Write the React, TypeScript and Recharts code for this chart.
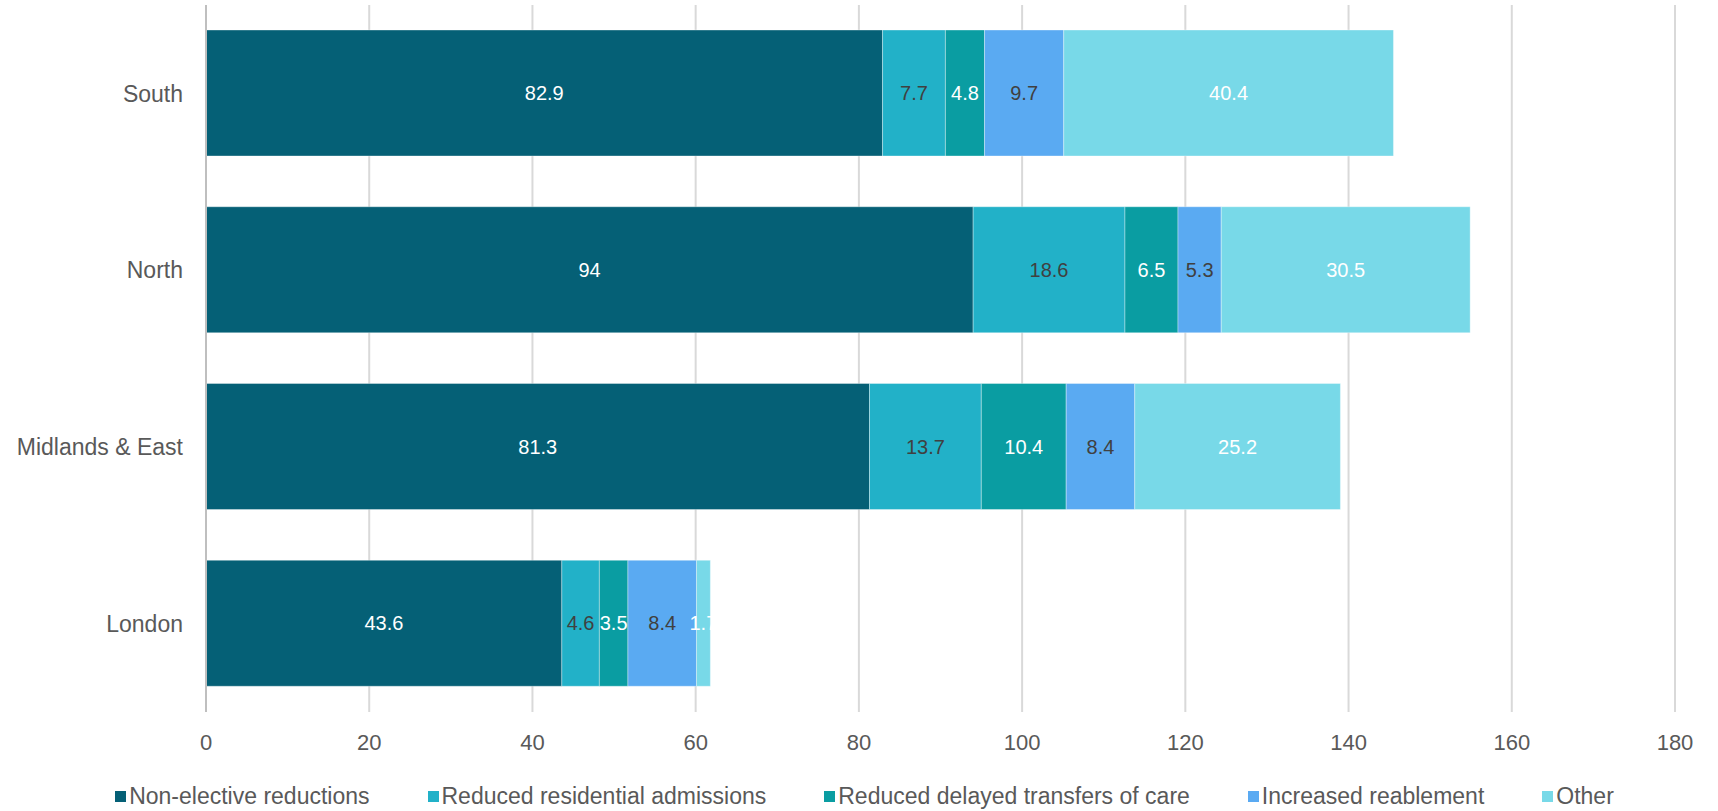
import { Bar, BarChart, CartesianGrid, LabelList, Legend, XAxis, YAxis } from "recharts"

const regions = ["South", "North", "Midlands & East", "London"]
const nonElective = [82.9, 94, 81.3, 43.6]
const residential = [7.7, 18.6, 13.7, 4.6]
const delayedTransfers = [4.8, 6.5, 10.4, 3.5]
const reablement = [9.7, 5.3, 8.4, 8.4]
const other = [40.4, 30.5, 25.2, 1.7]
const xTicks = [0, 20, 40, 60, 80, 100, 120, 140, 160, 180]

const series = [
  { key: "nonElective", name: "Non-elective reductions", values: nonElective, color: "#056076", label: "#ffffff" },
  { key: "residential", name: "Reduced residential admissions", values: residential, color: "#22b1c8", label: "#404040" },
  { key: "delayed", name: "Reduced delayed transfers of care", values: delayedTransfers, color: "#0a9da2", label: "#ffffff" },
  { key: "reablement", name: "Increased reablement", values: reablement, color: "#5aaaf2", label: "#404040" },
  { key: "other", name: "Other", values: other, color: "#78d9e8", label: "#ffffff" },
]

const data = regions.map((region, i) => {
  const row: Record<string, string | number> = { region }
  series.forEach((s) => (row[s.key] = s.values[i]))
  return row
})

const font = "'Liberation Sans', Arial, sans-serif"

const LegendContent = () => (
  <div
    style={{
      display: "flex",
      justifyContent: "center",
      gap: 58,
      height: 30,
      alignItems: "center",
      fontFamily: font,
      fontSize: 23,
      color: "#595959",
      paddingLeft: 54,
    }}
  >
    {series.map((s) => (
      <div key={s.key} style={{ display: "flex", alignItems: "center", gap: 3 }}>
        <span style={{ width: 11, height: 11, background: s.color, display: "inline-block" }} />
        <span>{s.name}</span>
      </div>
    ))}
  </div>
)

export default function App() {
  return (
    <div style={{ position: "absolute", left: 0, top: 0, background: "#fff" }}>
      <BarChart
        width={1718}
        height={811}
        data={data}
        layout="vertical"
        margin={{ top: 5, right: 43, left: 0, bottom: 0 }}
      >
        <CartesianGrid horizontal={false} stroke="#d9d9d9" strokeWidth={2} />
        <XAxis
          type="number"
          domain={[0, 180]}
          ticks={xTicks}
          axisLine={false}
          tickLine={false}
          tickSize={0}
          tickMargin={22}
          height={69}
          tick={{ fill: "#595959", fontSize: 22, fontFamily: font }}
        />
        <YAxis
          type="category"
          dataKey="region"
          width={206}
          axisLine={{ stroke: "#bfbfbf", strokeWidth: 2 }}
          tickLine={false}
          tickSize={0}
          tickMargin={23}
          tick={{ fill: "#595959", fontSize: 23, fontFamily: font }}
        />
        <Legend verticalAlign="bottom" content={<LegendContent />} />
        {series.map((s) => (
          <Bar
            key={s.key}
            dataKey={s.key}
            name={s.name}
            stackId="a"
            barSize={126}
            fill={s.color}
            stroke="#ffffff"
            strokeOpacity={0.35}
            strokeWidth={1}
            isAnimationActive={false}
          >
            <LabelList
              dataKey={s.key}
              position="center"
              fill={s.label}
              style={{ fontSize: 20, fontFamily: font }}
            />
          </Bar>
        ))}
      </BarChart>
    </div>
  )
}
